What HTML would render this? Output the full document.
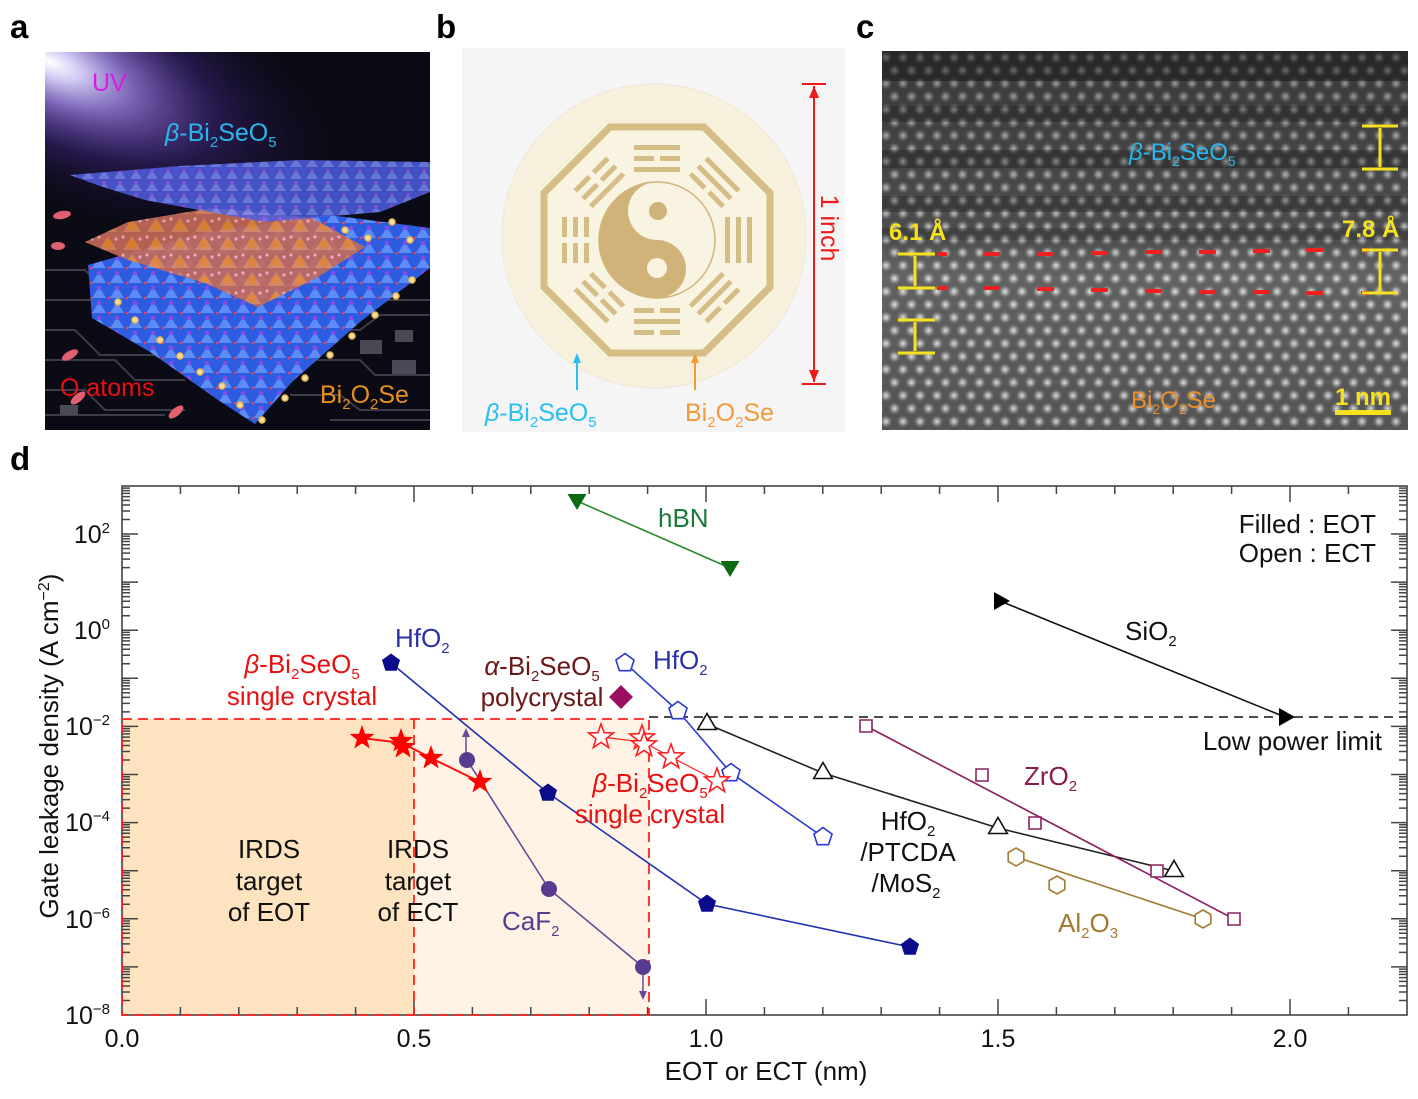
<!DOCTYPE html>
<html><head><meta charset="utf-8"><style>
html,body{margin:0;padding:0;background:#fff;}
svg{display:block;font-family:"Liberation Sans",Arial,sans-serif;}
</style></head><body>
<svg width="1418" height="1099" viewBox="0 0 1418 1099" xmlns="http://www.w3.org/2000/svg">
<defs>
<clipPath id="ca"><rect x="45" y="52" width="385" height="378"/></clipPath>
<clipPath id="cc"><rect x="882" y="51" width="526" height="379"/></clipPath>
<radialGradient id="beam" gradientUnits="userSpaceOnUse" cx="50" cy="62" r="330" gradientTransform="translate(50 62) rotate(24) scale(1 0.42) translate(-50 -62)">
<stop offset="0" stop-color="#ffffff" stop-opacity="1"/>
<stop offset="0.1" stop-color="#dcd4ff" stop-opacity="0.95"/>
<stop offset="0.28" stop-color="#9a7ce6" stop-opacity="0.75"/>
<stop offset="0.55" stop-color="#4e2c9a" stop-opacity="0.4"/>
<stop offset="0.85" stop-color="#1c1040" stop-opacity="0.12"/>
<stop offset="1" stop-color="#000" stop-opacity="0"/>
</radialGradient>
<pattern id="tri" width="18" height="15" patternUnits="userSpaceOnUse">
<rect width="18" height="15" fill="#2d5ce0"/>
<polygon points="9,2 16,13 2,13" fill="#5d8cf6"/>
<circle cx="9" cy="3" r="2.2" fill="#8a4ae6"/>
<circle cx="1" cy="13" r="1.3" fill="#ff3a4a"/>
</pattern>
<pattern id="tri2" width="16" height="12" patternUnits="userSpaceOnUse">
<rect width="16" height="12" fill="#4d5fe0"/>
<polygon points="8,2 14,11 2,11" fill="#7a8af5"/>
<circle cx="8" cy="3" r="2" fill="#9a5af0"/>
</pattern>
<pattern id="orn" width="24" height="18" patternUnits="userSpaceOnUse">
<rect width="24" height="18" fill="#c46a5a"/>
<polygon points="12,2 21,16 3,16" fill="#e08a60"/>
<circle cx="12" cy="10" r="4.5" fill="#ee8a30"/>
<circle cx="3" cy="3" r="1.6" fill="#ffb0b8"/>
<circle cx="20" cy="5" r="1.6" fill="#ffb0b8"/>
</pattern>
<radialGradient id="dot">
<stop offset="0" stop-color="#e6e6e6"/>
<stop offset="0.45" stop-color="#acacac" stop-opacity="0.75"/>
<stop offset="1" stop-color="#585858" stop-opacity="0"/>
</radialGradient>
<pattern id="lat" width="17" height="26" patternUnits="userSpaceOnUse" x="882" y="51">
<rect width="17" height="26" fill="#585858"/>
<circle cx="4" cy="6.5" r="7" fill="url(#dot)"/>
<circle cx="21" cy="6.5" r="7" fill="url(#dot)"/>
<circle cx="12.5" cy="19.5" r="7" fill="url(#dot)"/>
<circle cx="-4.5" cy="19.5" r="7" fill="url(#dot)"/>
</pattern>
<linearGradient id="cshade" x1="0" y1="0" x2="0" y2="1">
<stop offset="0" stop-color="#000" stop-opacity="0.35"/>
<stop offset="0.5" stop-color="#000" stop-opacity="0.12"/>
<stop offset="0.6" stop-color="#fff" stop-opacity="0.06"/>
<stop offset="1" stop-color="#000" stop-opacity="0.05"/>
</linearGradient>
<path id="st" d="M0,-13 L3.12,-4.29 L12.36,-4.02 L5.04,1.64 L7.64,10.52 L0,5.3 L-7.64,10.52 L-5.04,1.64 L-12.36,-4.02 L-3.12,-4.29 Z"/>
<path id="pg" d="M0,-9.5 L9.04,-2.94 L5.58,7.69 L-5.58,7.69 L-9.04,-2.94 Z"/>
<path id="tu" d="M0,-10.5 L9.3,5.5 L-9.3,5.5 Z"/>
<path id="td" d="M0,9 L9.5,-7 L-9.5,-7 Z"/>
<path id="tr" d="M10,0 L-6,-9 L-6,9 Z"/>
<path id="hx" d="M0,-9 L7.8,-4.5 L7.8,4.5 L0,9 L-7.8,4.5 L-7.8,-4.5 Z"/>
<path id="dm" d="M0,-12 L12,0 L0,12 L-12,0 Z"/>
<path id="sq" d="M-6,-6 H6 V6 H-6 Z"/>
<path id="yt" d="M0 966.9h16M0 918.8h16M0 870.7h16M0 822.6h16M0 774.5h16M0 726.4h16M0 678.3h16M0 630.2h16M0 582.1h16M0 534h16
M0 1000.5h8M0 992h8M0 986h8M0 981.4h8M0 977.6h8M0 974.4h8M0 971.6h8M0 969.1h8
M0 952.4h8M0 943.9h8M0 937.9h8M0 933.3h8M0 929.5h8M0 926.3h8M0 923.5h8M0 921h8
M0 904.3h8M0 895.8h8M0 889.8h8M0 885.2h8M0 881.4h8M0 878.2h8M0 875.4h8M0 872.9h8
M0 856.2h8M0 847.7h8M0 841.7h8M0 837.1h8M0 833.3h8M0 830.1h8M0 827.3h8M0 824.8h8
M0 808.1h8M0 799.6h8M0 793.6h8M0 789h8M0 785.2h8M0 782h8M0 779.2h8M0 776.7h8
M0 760h8M0 751.5h8M0 745.5h8M0 740.9h8M0 737.1h8M0 733.9h8M0 731.1h8M0 728.6h8
M0 711.9h8M0 703.4h8M0 697.4h8M0 692.8h8M0 689h8M0 685.8h8M0 683h8M0 680.5h8
M0 663.8h8M0 655.3h8M0 649.3h8M0 644.7h8M0 640.9h8M0 637.7h8M0 634.9h8M0 632.4h8
M0 615.7h8M0 607.2h8M0 601.2h8M0 596.6h8M0 592.8h8M0 589.6h8M0 586.8h8M0 584.3h8
M0 567.6h8M0 559.1h8M0 553.1h8M0 548.5h8M0 544.7h8M0 541.5h8M0 538.7h8M0 536.2h8
M0 519.5h8M0 511h8M0 505h8M0 500.4h8M0 496.6h8M0 493.4h8M0 490.6h8M0 488.1h8"/>
<path id="xt" d="M414 0v-16M706 0v-16M998 0v-16M1290 0v-16
M180.4 0v-8M238.8 0v-8M297.2 0v-8M355.6 0v-8M472.4 0v-8M530.8 0v-8M589.2 0v-8M647.6 0v-8
M764.4 0v-8M822.8 0v-8M881.2 0v-8M939.6 0v-8M1056.4 0v-8M1114.8 0v-8M1173.2 0v-8M1231.6 0v-8M1348.4 0v-8"/>
</defs>

<!-- ============ Panel a ============ -->
<g clip-path="url(#ca)">
<rect x="45" y="52" width="385" height="378" fill="#0b0b16"/>
<rect x="45" y="52" width="385" height="378" fill="url(#beam)"/>
<g stroke="#3c3c48" stroke-width="2" fill="none">
<path d="M45 270 h40 l15 15 h30 M45 300 h55 l20 20 h40 M45 330 h30 l25 25 h60 M45 360 h70 l20 20 h50 M45 390 h40 l20 20 h80 M45 415 h120"/>
<path d="M320 330 h40 l20 -15 h50 M300 360 h60 l15 15 h55 M290 395 h50 l20 15 h70 M330 420 h100 M380 300 h50"/>
</g>
<g fill="#4a4a56">
<rect x="360" y="340" width="22" height="14"/><rect x="395" y="330" width="18" height="12"/>
<rect x="392" y="360" width="24" height="14"/><rect x="60" y="405" width="18" height="10"/>
</g>
<!-- lower blue layer -->
<polygon points="88,265 200,233 330,215 430,228 430,268 360,322 292,382 255,424 218,400 150,352 92,318" fill="url(#tri)"/>
<!-- orange layer -->
<polygon points="85,242 128,222 212,208 312,218 365,247 318,277 258,307 205,283 128,260" fill="url(#orn)" opacity="0.9"/>
<!-- upper sheet -->
<polygon points="70,175 180,166 300,160 430,162 430,192 380,212 265,222 188,208 145,200 100,186" fill="url(#tri2)" opacity="0.85"/>
<g fill="#f4dfa0" stroke="#e8b850" stroke-width="1.5">
<circle cx="118" cy="302" r="3"/><circle cx="135" cy="320" r="3"/><circle cx="160" cy="340" r="3"/><circle cx="180" cy="356" r="3"/>
<circle cx="200" cy="372" r="3"/><circle cx="222" cy="386" r="3"/><circle cx="240" cy="405" r="3"/><circle cx="262" cy="420" r="3"/>
<circle cx="285" cy="398" r="3"/><circle cx="305" cy="378" r="3"/><circle cx="330" cy="355" r="3"/><circle cx="352" cy="336" r="3"/>
<circle cx="375" cy="315" r="3"/><circle cx="396" cy="296" r="3"/><circle cx="412" cy="280" r="3"/><circle cx="345" cy="230" r="3"/>
<circle cx="368" cy="238" r="3"/><circle cx="392" cy="222" r="3"/><circle cx="410" cy="240" r="3"/>
</g>
<g fill="#e06070">
<ellipse cx="62" cy="215" rx="9" ry="4" transform="rotate(-10 62 215)"/>
<ellipse cx="58" cy="246" rx="7" ry="4"/>
<ellipse cx="70" cy="355" rx="9" ry="4" transform="rotate(-30 70 355)"/>
<ellipse cx="78" cy="398" rx="9" ry="4" transform="rotate(-40 78 398)"/>
<ellipse cx="176" cy="412" rx="9" ry="4" transform="rotate(-40 176 412)"/>
</g>
<text x="92" y="91" font-size="25" fill="#d21ee0">UV</text>
<text x="165" y="141" font-size="25" fill="#2ab6ea"><tspan font-style="italic">β</tspan>-Bi<tspan font-size="15" dy="6">2</tspan><tspan dy="-6">SeO</tspan><tspan font-size="15" dy="6">5</tspan></text>
<text x="60" y="396" font-size="25" fill="#e81010">O atoms</text>
<text x="320" y="403" font-size="25" fill="#e8901e">Bi<tspan font-size="15" dy="6">2</tspan><tspan dy="-6">O</tspan><tspan font-size="15" dy="6">2</tspan><tspan dy="-6">Se</tspan></text>
</g>

<!-- ============ Panel b ============ -->
<rect x="462" y="48" width="383" height="384" fill="#f5f5f5"/>
<circle cx="654" cy="236" r="152" fill="#f7f0dd" stroke="#efe6d6" stroke-width="1"/>
<g transform="translate(657 240)">
<polygon points="-47,-113 47,-113 113,-47 113,47 47,113 -47,113 -113,47 -113,-47" fill="#f9f3e2" stroke="#d5bd86" stroke-width="7"/>
<g fill="#d5bd86">
<g><rect x="-23" y="-95" width="46" height="5"/><rect x="-23" y="-84" width="20" height="5"/><rect x="3" y="-84" width="20" height="5"/><rect x="-23" y="-73" width="46" height="5"/></g>
<g transform="rotate(45)"><rect x="-23" y="-95" width="46" height="5"/><rect x="-23" y="-84" width="46" height="5"/><rect x="-23" y="-73" width="20" height="5"/><rect x="3" y="-73" width="20" height="5"/></g>
<g transform="rotate(90)"><rect x="-23" y="-95" width="46" height="5"/><rect x="-23" y="-84" width="46" height="5"/><rect x="-23" y="-73" width="46" height="5"/></g>
<g transform="rotate(135)"><rect x="-23" y="-95" width="20" height="5"/><rect x="3" y="-95" width="20" height="5"/><rect x="-23" y="-84" width="46" height="5"/><rect x="-23" y="-73" width="46" height="5"/></g>
<g transform="rotate(180)"><rect x="-23" y="-95" width="20" height="5"/><rect x="3" y="-95" width="20" height="5"/><rect x="-23" y="-84" width="46" height="5"/><rect x="-23" y="-73" width="20" height="5"/><rect x="3" y="-73" width="20" height="5"/></g>
<g transform="rotate(225)"><rect x="-23" y="-95" width="46" height="5"/><rect x="-23" y="-84" width="20" height="5"/><rect x="3" y="-84" width="20" height="5"/><rect x="-23" y="-73" width="20" height="5"/><rect x="3" y="-73" width="20" height="5"/></g>
<g transform="rotate(270)"><rect x="-23" y="-95" width="20" height="5"/><rect x="3" y="-95" width="20" height="5"/><rect x="-23" y="-84" width="20" height="5"/><rect x="3" y="-84" width="20" height="5"/><rect x="-23" y="-73" width="20" height="5"/><rect x="3" y="-73" width="20" height="5"/></g>
<g transform="rotate(315)"><rect x="-23" y="-95" width="20" height="5"/><rect x="3" y="-95" width="20" height="5"/><rect x="-23" y="-84" width="20" height="5"/><rect x="3" y="-84" width="20" height="5"/><rect x="-23" y="-73" width="46" height="5"/></g>
</g>
</g>
<circle cx="657" cy="240" r="58" fill="#f9f3e2" stroke="#d0b57c" stroke-width="1.5"/>
<path d="M657,182 A58,58 0 0 0 657,298 A29,29 0 0 0 657,240 A29,29 0 0 1 657,182 Z" fill="#d0b378"/>
<circle cx="658" cy="211" r="9" fill="#d0b378"/>
<circle cx="657" cy="268" r="10" fill="#f9f3e2"/>
<g stroke="#f01818" stroke-width="2" fill="#f01818">
<line x1="814" y1="86" x2="814" y2="382"/>
<line x1="802" y1="84" x2="826" y2="84"/><line x1="802" y1="384" x2="826" y2="384"/>
<path d="M814,86 L809,98 L819,98 Z" stroke="none"/><path d="M814,382 L809,370 L819,370 Z" stroke="none"/>
</g>
<text transform="translate(821 228) rotate(90)" text-anchor="middle" font-size="25" fill="#f01818">1 inch</text>
<g stroke-width="2">
<line x1="577" y1="390" x2="577" y2="358" stroke="#28c0f4"/><path d="M577,353 L573,363 L581,363 Z" fill="#28c0f4"/>
<line x1="695" y1="390" x2="695" y2="358" stroke="#f09a3a"/><path d="M695,353 L691,363 L699,363 Z" fill="#f09a3a"/>
</g>
<text x="485" y="421" font-size="25" fill="#28c0f4"><tspan font-style="italic">β</tspan>-Bi<tspan font-size="15" dy="6">2</tspan><tspan dy="-6">SeO</tspan><tspan font-size="15" dy="6">5</tspan></text>
<text x="685" y="421" font-size="25" fill="#f09a3a">Bi<tspan font-size="15" dy="6">2</tspan><tspan dy="-6">O</tspan><tspan font-size="15" dy="6">2</tspan><tspan dy="-6">Se</tspan></text>

<!-- ============ Panel c ============ -->
<g clip-path="url(#cc)">
<rect x="882" y="51" width="526" height="379" fill="url(#lat)"/>
<rect x="882" y="51" width="526" height="379" fill="url(#cshade)"/>
<g fill="#000">
<rect x="882" y="51" width="526" height="30" opacity="0.3"/>
<rect x="882" y="106" width="526" height="16" opacity="0.22"/>
<rect x="882" y="150" width="526" height="18" opacity="0.22"/>
<rect x="882" y="196" width="526" height="16" opacity="0.2"/>
<rect x="882" y="228" width="526" height="12" opacity="0.15"/>
</g>
</g>
<g stroke="#f02020" stroke-width="4">
<path d="M937 254h10M983 254h17M1037 254h17M1091 253h17M1145 252h17M1199 252h17M1253 251h17M1306 250h17M1361 250h9"/>
<path d="M937 288h10M983 288h17M1037 289h17M1091 290h17M1145 291h17M1199 292h17M1253 292h17M1306 293h17M1361 293h9"/>
</g>
<g stroke="#f5e11e" stroke-width="3" fill="#f5e11e">
<path d="M898 254h37M898 288h37M915 256v30M898 320h37M898 353h37M915 322v29"/>
<path d="M1362 126h36M1362 169h36M1380 128v39M1362 250h36M1362 293h36M1380 252v39"/>
<rect x="1335" y="410" width="56" height="5" stroke="none"/>
</g>
<text x="889" y="240" font-size="24" font-weight="bold" fill="#f5e11e">6.1 Å</text>
<text x="1342" y="237" font-size="24" font-weight="bold" fill="#f5e11e">7.8 Å</text>
<text x="1335" y="405" font-size="24" font-weight="bold" fill="#f5e11e">1 nm</text>
<text x="1129" y="160" font-size="24" fill="#2ab8ec"><tspan font-style="italic">β</tspan>-Bi<tspan font-size="14" dy="6">2</tspan><tspan dy="-6">SeO</tspan><tspan font-size="14" dy="6">5</tspan></text>
<text x="1131" y="408" font-size="24" fill="#ec902c">Bi<tspan font-size="14" dy="6">2</tspan><tspan dy="-6">O</tspan><tspan font-size="14" dy="6">2</tspan><tspan dy="-6">Se</tspan></text>

<!-- panel letters -->
<g font-size="33" font-weight="bold" fill="#000">
<text x="10" y="38">a</text><text x="436" y="38">b</text><text x="856" y="38">c</text><text x="10" y="470">d</text>
</g>

<!-- ============ Panel d ============ -->
<rect x="122" y="719" width="292" height="296" fill="#fde3bf"/>
<rect x="414" y="719" width="235" height="296" fill="#fef3e5"/>
<rect x="122" y="486" width="1285" height="529" fill="none" stroke="#444" stroke-width="1.6"/>
<g stroke="#444" stroke-width="1.5" fill="none">
<use href="#yt" transform="translate(122 0)"/>
<use href="#yt" transform="translate(1407 0) scale(-1 1)"/>
<use href="#xt" transform="translate(0 1015)"/>
<use href="#xt" transform="translate(0 486) scale(1 -1)"/>
</g>
<line x1="649" y1="717" x2="1407" y2="717" stroke="#111" stroke-width="1.6" stroke-dasharray="9 6"/>
<g stroke="#ff2020" stroke-width="1.8" stroke-dasharray="10 6" fill="none">
<path d="M122 719 H649 V1015 H122 Z"/>
<line x1="414" y1="719" x2="414" y2="1015"/>
</g>

<!-- tick labels -->
<g font-size="25" fill="#111" text-anchor="end">
<text x="110" y="543">10<tspan dy="-10" font-size="15">2</tspan></text>
<text x="110" y="639">10<tspan dy="-10" font-size="15">0</tspan></text>
<text x="110" y="735">10<tspan dy="-10" font-size="15">−2</tspan></text>
<text x="110" y="831">10<tspan dy="-10" font-size="15">−4</tspan></text>
<text x="110" y="928">10<tspan dy="-10" font-size="15">−6</tspan></text>
<text x="110" y="1024">10<tspan dy="-10" font-size="15">−8</tspan></text>
</g>
<g font-size="25" fill="#111" text-anchor="middle">
<text x="122" y="1047">0.0</text><text x="414" y="1047">0.5</text><text x="706" y="1047">1.0</text><text x="998" y="1047">1.5</text><text x="1290" y="1047">2.0</text>
</g>
<text x="766" y="1080" font-size="26" text-anchor="middle" fill="#111">EOT or ECT (nm)</text>
<text transform="translate(58 746) rotate(-90)" font-size="26" text-anchor="middle" fill="#111">Gate leakage density (A cm<tspan dy="-9" font-size="16">−2</tspan><tspan dy="9">)</tspan></text>

<!-- series lines -->
<g fill="none" stroke-width="1.6">
<polyline points="577,501 730,568" stroke="#2a8a2a"/>
<polyline points="1000,601 1285,717" stroke="#111"/>
<polyline points="391,663 548,793 707,904 910,947" stroke="#2030b0"/>
<polyline points="625,663 678,711 731,773 823,837" stroke="#2a3ad0"/>
<polyline points="707,724 823,773 998,828 1174,871" stroke="#222"/>
<polyline points="866,726 1234,919" stroke="#8b2060"/>
<polyline points="1016,857 1203,919" stroke="#a07a30"/>
<polyline points="467,760 549,889 643,967" stroke="#6a4a98"/>
<polyline points="362,738 402,743 431,758 480,782" stroke="#ff1010" stroke-width="2"/>
<polyline points="601,737 643,742 671,757 717,781" stroke="#ff2020" stroke-width="1.2"/>
</g>
<!-- CaF2 arrows -->
<g stroke="#6a4a98" stroke-width="1.5" fill="#6a4a98">
<line x1="466" y1="752" x2="466" y2="734"/><path d="M466,728 L462,737 L470,737 Z" stroke="none"/>
<line x1="643" y1="975" x2="643" y2="994"/><path d="M643,1000 L639,991 L647,991 Z" stroke="none"/>
</g>

<!-- markers -->
<use href="#td" x="577" y="501" fill="#0a6a12"/>
<use href="#td" x="730" y="568" fill="#0a6a12"/>
<use href="#tr" x="1000" y="601" fill="#000"/>
<use href="#tr" x="1285" y="717" fill="#000"/>
<g fill="#0b0b8c">
<use href="#pg" x="391" y="663"/><use href="#pg" x="548" y="793"/><use href="#pg" x="707" y="904"/><use href="#pg" x="910" y="947"/>
</g>
<g fill="#fff" stroke="#2a3ad0" stroke-width="1.6">
<use href="#pg" x="625" y="663"/><use href="#pg" x="678" y="711"/><use href="#pg" x="731" y="773"/><use href="#pg" x="823" y="837"/>
</g>
<g fill="#fff" stroke="#111" stroke-width="1.6">
<use href="#tu" x="707" y="724"/><use href="#tu" x="823" y="773"/><use href="#tu" x="998" y="828"/><use href="#tu" x="1174" y="871"/>
</g>
<g fill="#fff" stroke="#8b2060" stroke-width="1.6">
<use href="#sq" x="866" y="726"/><use href="#sq" x="982" y="775"/><use href="#sq" x="1035" y="823"/><use href="#sq" x="1157" y="871"/><use href="#sq" x="1234" y="919"/>
</g>
<g fill="#fff" stroke="#a07a30" stroke-width="1.6">
<use href="#hx" x="1016" y="857"/><use href="#hx" x="1057" y="885"/><use href="#hx" x="1203" y="919"/>
</g>
<g fill="#5a3a8e">
<circle cx="467" cy="760" r="8"/><circle cx="549" cy="889" r="8"/><circle cx="643" cy="967" r="8"/>
</g>
<use href="#dm" x="621" y="697" fill="#9a1060"/>
<g fill="#fff" stroke="#ff2020" stroke-width="1.6">
<use href="#st" x="601" y="737"/><use href="#st" x="642" y="738"/><use href="#st" x="644" y="745"/><use href="#st" x="671" y="757"/><use href="#st" x="717" y="781"/>
</g>
<g fill="#ff0000">
<use href="#st" x="362" y="738"/><use href="#st" x="401" y="741"/><use href="#st" x="403" y="747"/><use href="#st" x="431" y="758"/><use href="#st" x="480" y="782"/>
</g>

<!-- labels -->
<g font-size="26">
<text x="658" y="527" fill="#1a7a3a">hBN</text>
<text x="1376" y="533" text-anchor="end" fill="#111">Filled : EOT</text>
<text x="1376" y="562" text-anchor="end" fill="#111">Open : ECT</text>
<text x="1125" y="640" fill="#111">SiO<tspan font-size="15" dy="6">2</tspan></text>
<text x="1382" y="750" text-anchor="end" fill="#111">Low power limit</text>
<text x="395" y="647" fill="#2a30a6">HfO<tspan font-size="15" dy="6">2</tspan></text>
<text x="653" y="669" fill="#2a30a6">HfO<tspan font-size="15" dy="6">2</tspan></text>
<text x="302" y="673" text-anchor="middle" fill="#e81010"><tspan font-style="italic">β</tspan>-Bi<tspan font-size="15" dy="6">2</tspan><tspan dy="-6">SeO</tspan><tspan font-size="15" dy="6">5</tspan></text>
<text x="302" y="705" text-anchor="middle" fill="#e81010">single crystal</text>
<text x="542" y="675" text-anchor="middle" fill="#6b1818"><tspan font-style="italic">α</tspan>-Bi<tspan font-size="15" dy="6">2</tspan><tspan dy="-6">SeO</tspan><tspan font-size="15" dy="6">5</tspan></text>
<text x="542" y="706" text-anchor="middle" fill="#6b1818">polycrystal</text>
<text x="650" y="792" text-anchor="middle" fill="#e81010"><tspan font-style="italic">β</tspan>-Bi<tspan font-size="15" dy="6">2</tspan><tspan dy="-6">SeO</tspan><tspan font-size="15" dy="6">5</tspan></text>
<text x="650" y="823" text-anchor="middle" fill="#e81010">single crystal</text>
<text x="502" y="930" fill="#5a3a8e">CaF<tspan font-size="15" dy="6">2</tspan></text>
<g text-anchor="middle" fill="#111">
<text x="269" y="858">IRDS</text><text x="269" y="890">target</text><text x="269" y="921">of EOT</text>
<text x="418" y="858">IRDS</text><text x="418" y="890">target</text><text x="418" y="921">of ECT</text>
<text x="908" y="830">HfO<tspan font-size="15" dy="6">2</tspan></text>
<text x="908" y="861">/PTCDA</text>
<text x="906" y="892">/MoS<tspan font-size="15" dy="6">2</tspan></text>
</g>
<text x="1024" y="785" fill="#8b1a50">ZrO<tspan font-size="15" dy="6">2</tspan></text>
<text x="1058" y="932" fill="#a07a30">Al<tspan font-size="15" dy="6">2</tspan><tspan dy="-6">O</tspan><tspan font-size="15" dy="6">3</tspan></text>
</g>
</svg>
</body></html>
